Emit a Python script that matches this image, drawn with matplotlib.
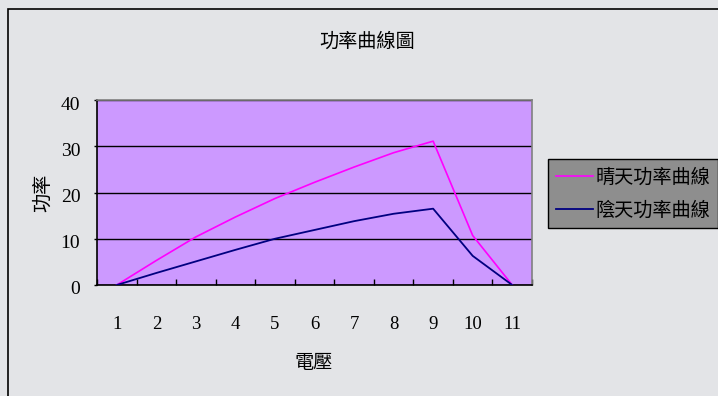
import matplotlib
matplotlib.use("Agg")
import matplotlib.pyplot as plt
import matplotlib.transforms as mtrans
from matplotlib.patches import Rectangle

# Data
categories = ["1", "2", "3", "4", "5", "6", "7", "8", "9", "10", "11"]
sunny_power = [0, 5.3, 10.4, 14.7, 18.7, 22.2, 25.5, 28.6, 31.1, 10.7, 0]
cloudy_power = [0, 2.6, 5.1, 7.6, 10.0, 11.9, 13.8, 15.4, 16.5, 6.3, 0]
series_names = ["晴天功率曲線", "陰天功率曲線"]
y_ticks = [0, 10, 20, 30, 40]

CJK = ["Noto Sans CJK TC", "DejaVu Sans"]
SERIF = ["Liberation Serif", "DejaVu Serif"]

W, H = 718, 396
fig = plt.figure(figsize=(W / 100, H / 100), dpi=100)
fig.patch.set_facecolor("#e3e4e7")

# outer frame (only its top and left edges fall inside the canvas)
fig.patches.append(Rectangle((8 / W, -0.2), 1.2, 1.2 - 9 / H,
                             transform=fig.transFigure, fill=False,
                             edgecolor="black", linewidth=1.2))

ax = fig.add_axes([97 / W, (H - 285) / H, (532 - 97) / W, (285 - 100) / H])
ax.set_facecolor("#cc99ff")

x = list(range(1, len(categories) + 1))
ax.plot(x, sunny_power, color="#ff00ff", lw=1.2, label=series_names[0], zorder=3)
ax.plot(x, cloudy_power, color="#000080", lw=1.3, label=series_names[1], zorder=3)

ax.set_xlim(0.5, len(categories) + 0.5)
ax.set_ylim(0, 40)

# gridlines
ax.set_yticks(y_ticks)
ax.yaxis.grid(True, color="black", lw=1.0)
ax.set_axisbelow(True)

# category boundaries as tick marks, labels at category centres
ax.set_xticks([i + 0.5 for i in range(len(categories) + 1)])
ax.set_xticklabels([])
ax.tick_params(axis="x", which="major", direction="in", length=4.5, width=1.0, color="black")
ax.set_xticks(x, minor=True)
ax.set_xticklabels(categories, minor=True, fontfamily=SERIF, fontsize=13.5)
ax.tick_params(axis="x", which="minor", length=0, pad=22)

ax.set_yticklabels([str(v) for v in y_ticks], fontfamily=SERIF, fontsize=14)
ax.tick_params(axis="y", direction="out", length=2, width=1.0, pad=10)
offset = mtrans.ScaledTranslation(0, -3 / 100, fig.dpi_scale_trans)
for lbl in ax.get_yticklabels():
    lbl.set_transform(lbl.get_transform() + offset)

for side in ("left", "bottom"):
    ax.spines[side].set_color("black")
    ax.spines[side].set_linewidth(1.2)
for side in ("top", "right"):
    ax.spines[side].set_color("#808080")
    ax.spines[side].set_linewidth(1.2)

fig.text(367 / W, 1 - 41 / H, "功率曲線圖", ha="center", va="center",
         fontfamily=CJK, fontsize=13.8)
fig.text(43 / W, 1 - 193 / H, "功率", ha="center", va="center", rotation=90,
         fontfamily=CJK, fontsize=13.8)
fig.text(314 / W, 1 - 362 / H, "電壓", ha="center", va="center",
         fontfamily=CJK, fontsize=13.8)

leg = ax.legend(loc="upper left", bbox_to_anchor=(548 / W, 1 - 159 / H),
                bbox_transform=fig.transFigure, prop={"family": CJK, "size": 13.8},
                frameon=True, fancybox=False, framealpha=1, facecolor="#8e8e8e",
                edgecolor="black", borderpad=0.4, borderaxespad=0,
                handlelength=1.95, handletextpad=0.12, labelspacing=0.62)
leg.get_frame().set_linewidth(1.0)

fig.savefig("out.png", dpi=100, facecolor=fig.get_facecolor())
